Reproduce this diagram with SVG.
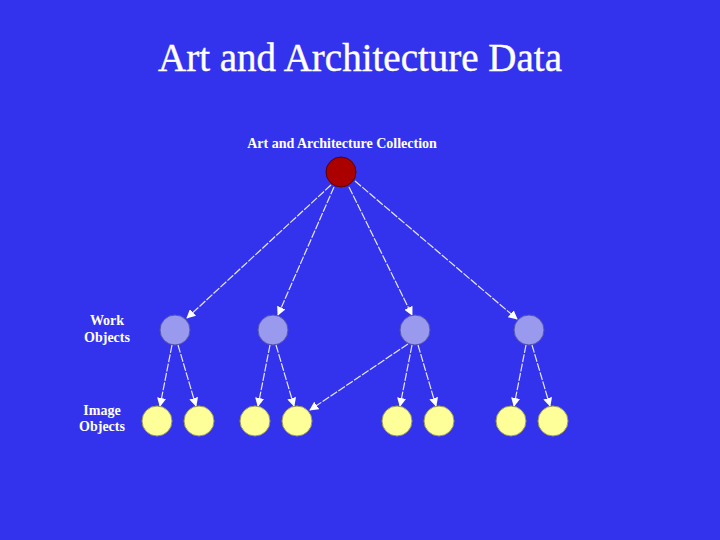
<svg xmlns="http://www.w3.org/2000/svg" width="720" height="540" viewBox="0 0 720 540">
<style>
.t{font-family:"Liberation Serif",serif;fill:#fff}
.l{font-family:"Liberation Serif",serif;fill:#fff;font-weight:bold;font-size:14px}
.e{stroke:#e8e8ff;stroke-width:1.2;stroke-dasharray:8 1.5;fill:none;marker-end:url(#a)}
.w{fill:#9999ee;stroke:#5555aa}
.i{fill:#ffff99;stroke:#999955}
</style>
<defs><marker id="a" viewBox="0 0 10 10" refX="9" refY="5" markerWidth="9" markerHeight="9" orient="auto" markerUnits="userSpaceOnUse"><path d="M0,0L10,5L0,10z" fill="#fff"/></marker></defs>
<rect width="720" height="540" fill="#3333ee"/>
<text class="t" x="360" y="71" font-size="39" text-anchor="middle" stroke="#fff" stroke-width="0.4">Art and Architecture Data</text>
<text class="l" x="342" y="148" text-anchor="middle">Art and Architecture Collection</text>
<text class="l" x="107" y="325" text-anchor="middle">Work</text>
<text class="l" x="107" y="342" text-anchor="middle">Objects</text>
<text class="l" x="102" y="415" text-anchor="middle">Image</text>
<text class="l" x="102" y="431" text-anchor="middle">Objects</text>
<g id="edges">
<line class="e" x1="331" y1="185" x2="187" y2="318"/>
<line class="e" x1="334" y1="187" x2="278" y2="315"/>
<line class="e" x1="349" y1="187" x2="412" y2="315"/>
<line class="e" x1="355" y1="181" x2="517" y2="319"/>
<line class="e" x1="172" y1="345" x2="160" y2="406"/>
<line class="e" x1="178" y1="345" x2="196" y2="406"/>
<line class="e" x1="270" y1="345" x2="258" y2="406"/>
<line class="e" x1="276" y1="345" x2="294" y2="406"/>
<line class="e" x1="408" y1="344" x2="310" y2="410"/>
<line class="e" x1="412" y1="345" x2="400" y2="406"/>
<line class="e" x1="418" y1="345" x2="436" y2="406"/>
<line class="e" x1="526" y1="345" x2="514" y2="406"/>
<line class="e" x1="532" y1="345" x2="550" y2="406"/>
</g>
<g id="root"><circle cx="341" cy="172" r="15" fill="#aa0000" stroke="#550000"/></g>
<g id="w1"><circle class="w" cx="175" cy="330" r="15"/></g>
<g id="w2"><circle class="w" cx="273" cy="330" r="15"/></g>
<g id="w3"><circle class="w" cx="415" cy="330" r="15"/></g>
<g id="w4"><circle class="w" cx="529" cy="330" r="15"/></g>
<g id="i1"><circle class="i" cx="157" cy="421" r="15"/></g>
<g id="i2"><circle class="i" cx="199" cy="421" r="15"/></g>
<g id="i3"><circle class="i" cx="255" cy="421" r="15"/></g>
<g id="i4"><circle class="i" cx="297" cy="421" r="15"/></g>
<g id="i5"><circle class="i" cx="397" cy="421" r="15"/></g>
<g id="i6"><circle class="i" cx="439" cy="421" r="15"/></g>
<g id="i7"><circle class="i" cx="511" cy="421" r="15"/></g>
<g id="i8"><circle class="i" cx="553" cy="421" r="15"/></g>
</svg>
